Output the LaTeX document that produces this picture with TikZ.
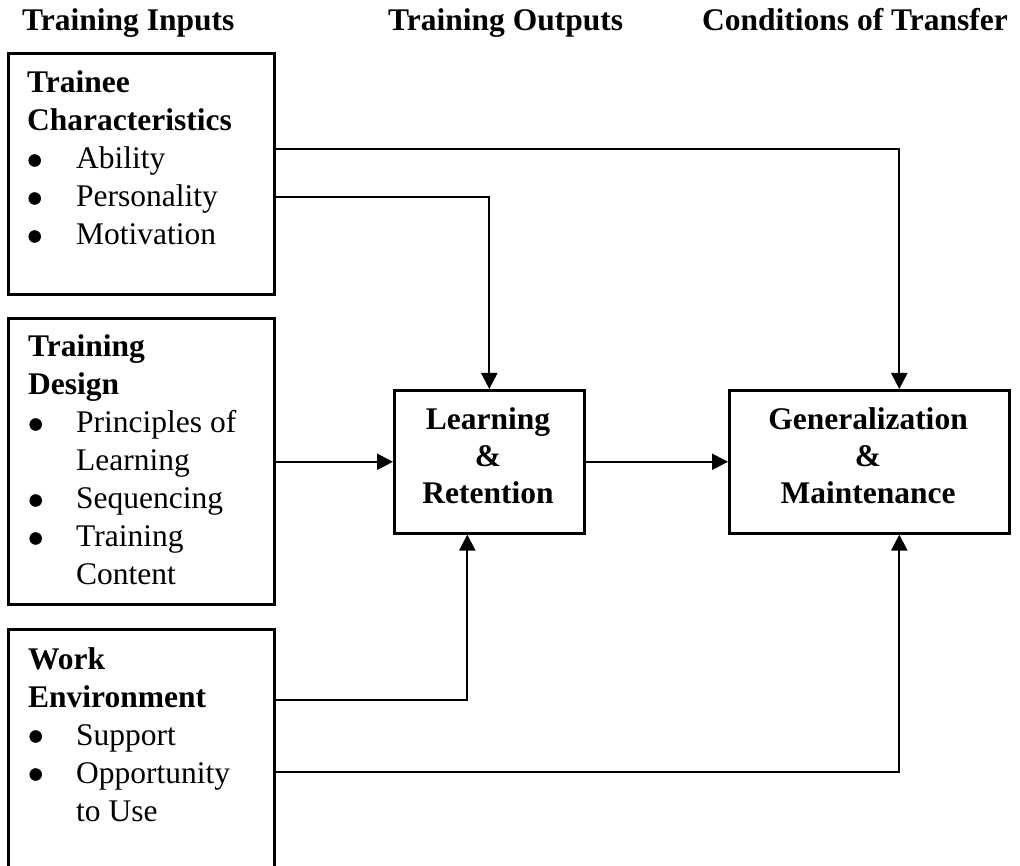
\documentclass[tikz,border=0pt]{standalone}
\usepackage{fontspec}
\setmainfont{Liberation Serif}
\usetikzlibrary{arrows.meta}
% round list bullet, drawn so that its size and height match the text
\newcommand{\blt}{\tikz[baseline=0pt,x=1pt,y=1pt]{\path (0,0); \fill (7.5,8.5) circle (6.3);}}
\begin{document}
\begin{tikzpicture}[x=1pt,y=-1pt,
  every node/.style={font=\fontsize{31.5}{38}\selectfont},
  frame/.style={draw, line width=2.6pt, inner sep=0pt, anchor=north west},
  hdr/.style={anchor=base west, inner sep=0pt, font=\fontsize{31.5}{38}\selectfont\bfseries},
  txt/.style={anchor=base west, inner sep=0pt},
  ctxt/.style={anchor=base, inner sep=0pt, font=\fontsize{31.5}{37}\selectfont\bfseries},
  conn/.style={line width=2.3pt, -{Triangle[length=16pt,width=16pt]}}]
\useasboundingbox (0,0) rectangle (1020,866);
\clip (0,0) rectangle (1020,866);

% column headings
\node[hdr] (hin) at (22,31) {Training Inputs};
\node[hdr] (hout) at (388,31) {Training Outputs};
\node[hdr, anchor=base east] (hcond) at (1008,31) {Conditions of Transfer};

% input boxes
\node[frame, minimum width=266pt, minimum height=241pt] (trainee) at (7,52) {};
\node[frame, minimum width=266pt, minimum height=286pt] (design) at (7,317) {};
\node[frame, minimum width=266pt, minimum height=270pt] (workenv) at (7,628) {};

\node[txt] (traineetxt) at (27,93) {\begin{tabular}[t]{@{}p{49pt}@{}l@{}}
  \multicolumn{2}{@{}l@{}}{\bfseries Trainee}\\
  \multicolumn{2}{@{}l@{}}{\bfseries Characteristics}\\
  \blt & Ability\\
  \blt & Personality\\
  \blt & Motivation
\end{tabular}};

\node[txt] (designtxt) at (28,357) {\begin{tabular}[t]{@{}p{48pt}@{}l@{}}
  \multicolumn{2}{@{}l@{}}{\bfseries Training}\\
  \multicolumn{2}{@{}l@{}}{\bfseries Design}\\
  \blt & Principles of\\
   & Learning\\
  \blt & Sequencing\\
  \blt & Training\\
   & Content
\end{tabular}};

\node[txt] (workenvtxt) at (28,669) {\begin{tabular}[t]{@{}p{48pt}@{}l@{}}
  \multicolumn{2}{@{}l@{}}{\bfseries Work}\\
  \multicolumn{2}{@{}l@{}}{\bfseries Environment}\\
  \blt & Support\\
  \blt & Opportunity\\
   & to Use
\end{tabular}};

% outcome boxes
\node[frame, minimum width=190pt, minimum height=143pt] (learn) at (393,389) {};
\node[frame, minimum width=280pt, minimum height=143pt] (general) at (728,389) {};

\node[ctxt] (learntxt) at (488,429) {\begin{tabular}[t]{@{}c@{}}
  Learning\\ \&\\ Retention
\end{tabular}};
\node[ctxt] (generaltxt) at (868,429) {\begin{tabular}[t]{@{}c@{}}
  Generalization\\ \&\\ Maintenance
\end{tabular}};

% connectors
\draw[conn] (trainee.east |- 0,149) -| ([xshift=30pt]general.north);
\draw[conn] (trainee.east |- 0,197) -| (learn.north);
\draw[conn] (design.east |- learn.west) -- (learn.west);
\draw[conn] (learn.east) -- (general.west);
\draw[conn] (workenv.east |- 0,700) -| ([xshift=-22pt]learn.south);
\draw[conn] (workenv.east |- 0,772) -| ([xshift=30pt]general.south);
\end{tikzpicture}
\end{document}
